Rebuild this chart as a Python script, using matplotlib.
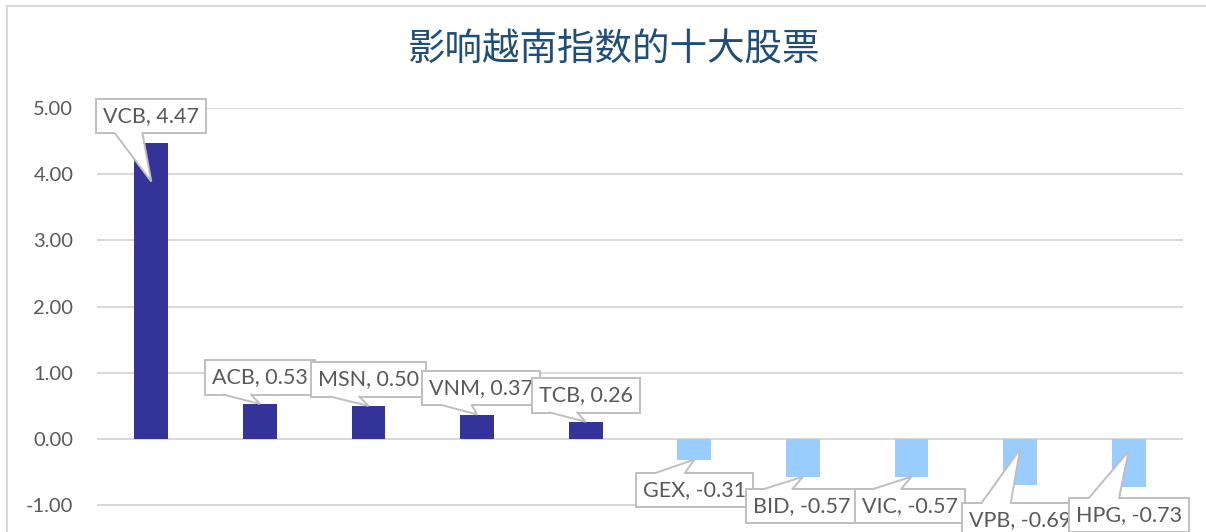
import matplotlib.pyplot as plt
from matplotlib.lines import Line2D
from matplotlib.patches import Polygon
from matplotlib.transforms import IdentityTransform

# data
stocks = ['VCB', 'ACB', 'MSN', 'VNM', 'TCB', 'GEX', 'BID', 'VIC', 'VPB', 'HPG']
impact = [4.47, 0.53, 0.50, 0.37, 0.26, -0.31, -0.57, -0.57, -0.69, -0.73]
title = '影响越南指数的十大股票'

# callout placement: where the pointer lands (fraction of bar) and text offset in points
tip_frac = [0.87, 1, 1, 1, 1, 1, 1, 1, 0.22, 0.25]
label_offset = [(0, 47), (0, 19), (0, 19), (3, 19), (0, 19),
                (0, -22), (-1, -21), (-1, -21), (0, -51), (0, -46)]

W, H = 1206, 532
fig = plt.figure(figsize=(W / 100, H / 100), dpi=100)

# axes area in pixels: x 97..1183, 5.00 gridline at y=108, 0.00 at y=439
px_per_unit = (439 - 108) / 5.0
ymin = -(H - 439) / px_per_unit
ax = fig.add_axes([97 / W, 0, (1183 - 97) / W, (H - 108) / H])

colors = ['#333399' if v >= 0 else '#99CCFF' for v in impact]
x = list(range(len(stocks)))
ax.bar(x, impact, width=0.31, color=colors, zorder=2)

ax.set_xlim(-0.5, len(stocks) - 0.5)
ax.set_ylim(ymin, 5.0)
ax.set_yticks([-1, 0, 1, 2, 3, 4, 5])
ax.set_yticklabels([f'{t:.2f}' for t in [-1, 0, 1, 2, 3, 4, 5]])
ax.set_xticks([])
ax.tick_params(axis='y', length=0, pad=17, labelsize=14.5, labelcolor='#595959')
for lbl in ax.get_yticklabels():
    lbl.set_family('Lato')
ax.grid(axis='y', color='#d9d9d9', linewidth=1.5, zorder=0)
for s in ax.spines.values():
    s.set_visible(False)

# callout boxes
edge = '#bfbfbf'
anns = []
for i, (name, v) in enumerate(zip(stocks, impact)):
    a = ax.annotate(f'{name}, {v:.2f}', xy=(i, v * tip_frac[i]),
                    xytext=label_offset[i], textcoords='offset points',
                    ha='center', va='center', fontsize=15.5, color='#595959',
                    family='Lato', zorder=5, annotation_clip=False,
                    bbox=dict(boxstyle='square,pad=0.33', fc='white', ec=edge, lw=1.4))
    anns.append(a)

# callout pointers: Excel-style wedge leaving the box edge between 17% and 42% of its width
fig.canvas.draw()
renderer = fig.canvas.get_renderer()
for i, a in enumerate(anns):
    bb = a.get_bbox_patch().get_window_extent(renderer)
    tx, ty = ax.transData.transform((i, impact[i] * tip_frac[i]))
    if ty < bb.y0:
        ey, inward = bb.y0, 2.5
    else:
        ey, inward = bb.y1, -2.5
    bl = bb.x0 + 0.17 * bb.width
    br = bb.x0 + 0.42 * bb.width
    fig.add_artist(Polygon([(bl, ey + inward), (bl, ey), (tx, ty), (br, ey), (br, ey + inward)],
                           closed=True, fc='white', ec='none', transform=IdentityTransform()))
    fig.add_artist(Line2D([bl, tx, br], [ey, ty, ey], color=edge, lw=1.4,
                          solid_joinstyle='miter', transform=IdentityTransform()))

# title
fig.text(614 / W, 1 - 50 / H, title, ha='center', va='center', fontsize=27,
         color='#1F4E79', family=['Noto Sans CJK SC', 'DejaVu Sans'])

# chart frame (only top and left visible in the crop)
fig.add_artist(Line2D([7 / W, 7 / W], [0, 1 - 6 / H], color='#d9d9d9', lw=1.5))
fig.add_artist(Line2D([7 / W, 1], [1 - 6 / H, 1 - 6 / H], color='#d9d9d9', lw=1.5))

plt.savefig('out.png', dpi=100)
